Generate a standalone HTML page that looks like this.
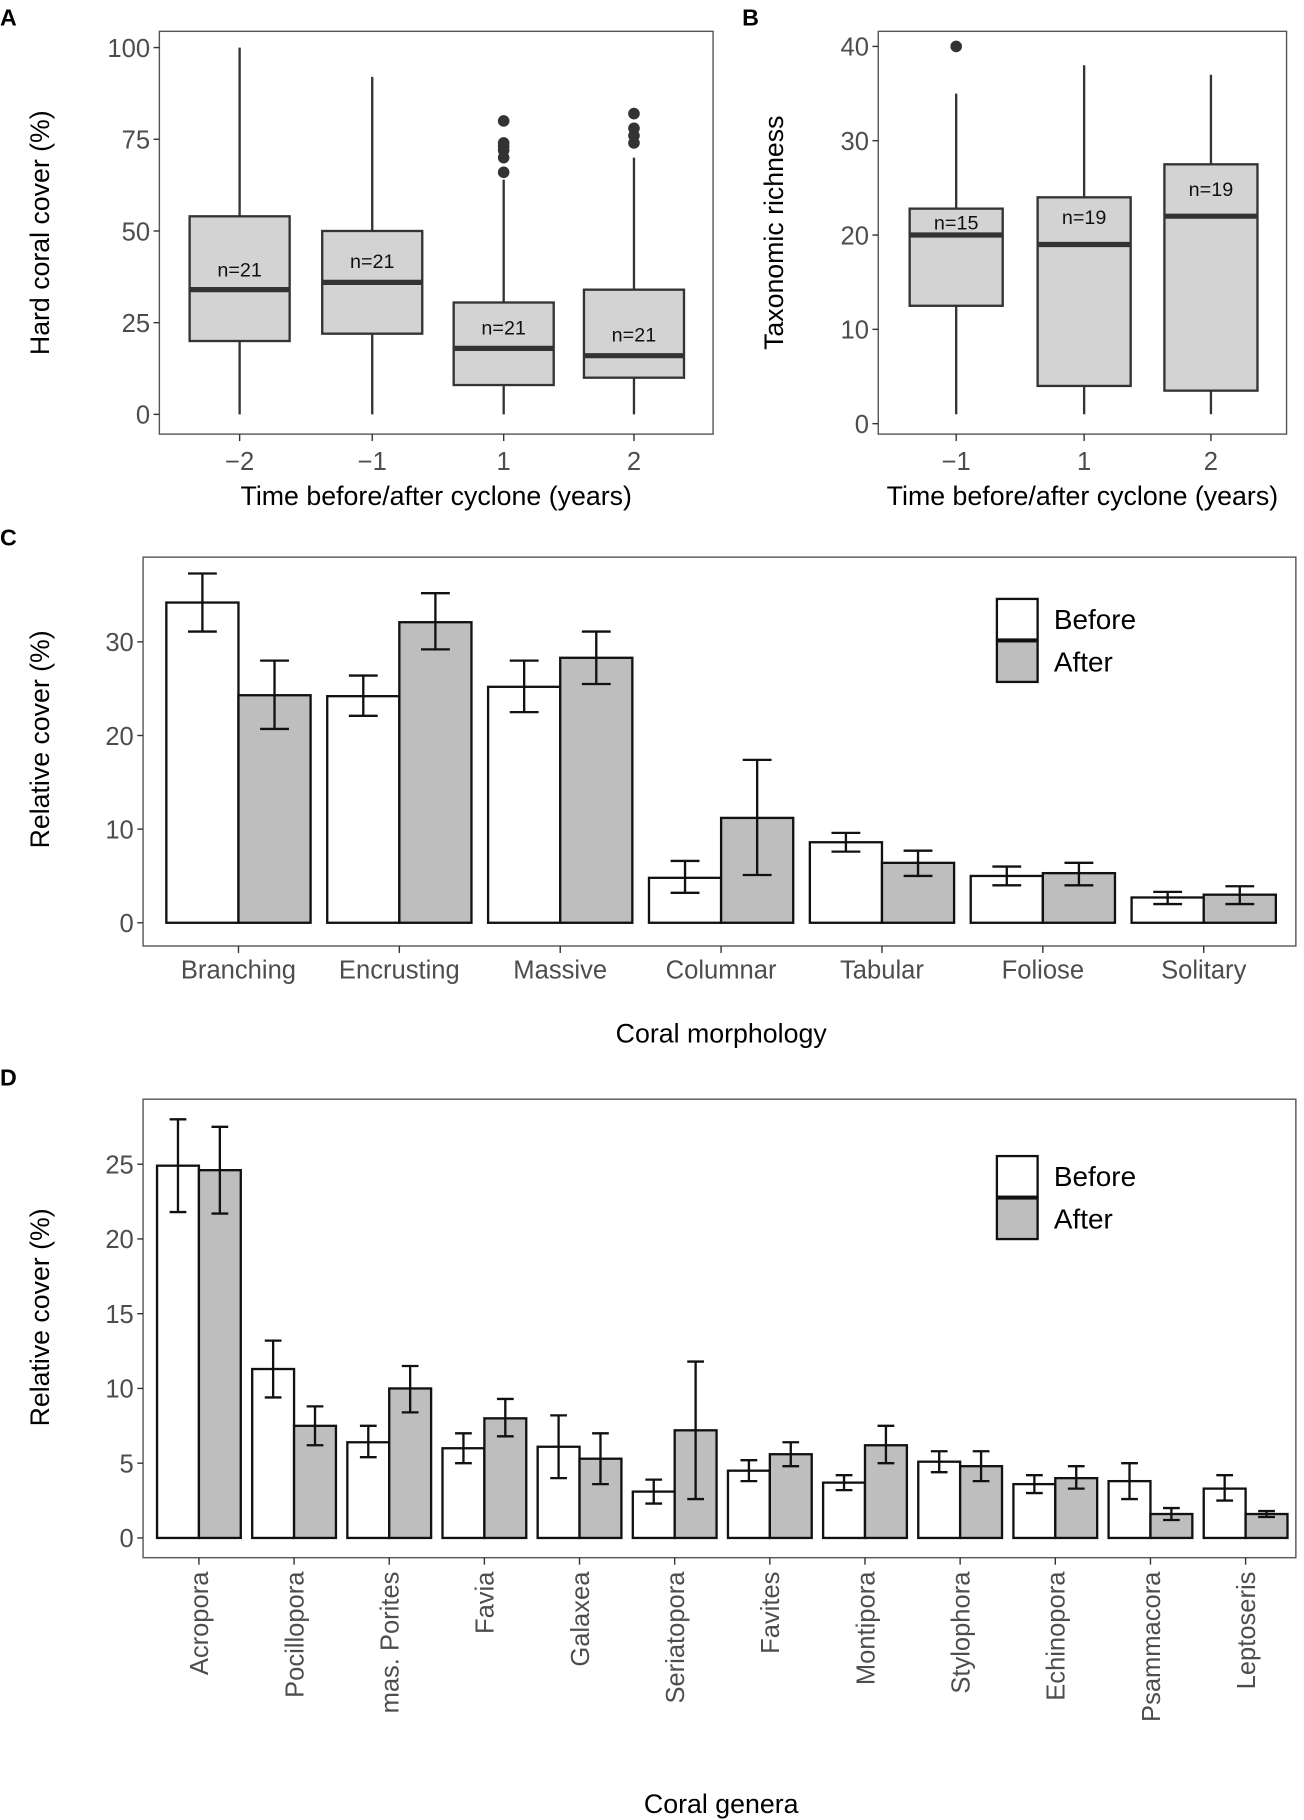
<!DOCTYPE html>
<html><head><meta charset="utf-8"><style>
html,body{margin:0;padding:0;background:#fff}
svg{display:block;font-family:"Liberation Sans",sans-serif}
.tk{fill:#4d4d4d;font-size:22px}
.tt{fill:#000;font-size:23px}
</style></head><body>
<svg id="fig" width="1304" height="1820" viewBox="0 0 1121 1568" preserveAspectRatio="none" xmlns="http://www.w3.org/2000/svg">
<g id="gA"></g>
<g id="gB"></g>
<g id="gC"></g>
<g id="gD"></g>
<text x="0" y="22" font-size="20" font-weight="bold">A</text>
<text x="638" y="22" font-size="20" font-weight="bold">B</text>
<text x="0" y="470" font-size="20" font-weight="bold">C</text>
<text x="0" y="935" font-size="20" font-weight="bold">D</text>
</svg>
<script>
// Panel A data
const aCats=["−2","−1","1","2"];
const aQ1=[20,22,8,10];
const aMed=[34,36,18,16];
const aQ3=[54,50,30.5,34];
const aLo=[0,0,0,0];
const aHi=[100,92,64,70];
const aOut=[[],[],[66,70,72,73,74,80],[74,76,78,82]];
const aN=["n=21","n=21","n=21","n=21"];
const aNy=[39.5,41.8,23.7,21.8];
const aTicks=[0,25,50,75,100];
// Panel B data
const bCats=["−1","1","2"];
const bQ1=[12.5,4,3.5];
const bMed=[20,19,22];
const bQ3=[22.8,24,27.5];
const bLo=[1,1,1];
const bHi=[35,38,37];
const bOut=[[40],[],[]];
const bN=["n=15","n=19","n=19"];
const bNy=[21.3,21.9,24.9];
const bTicks=[0,10,20,30,40];
// Panel C data
const cCats=["Branching","Encrusting","Massive","Columnar","Tabular","Foliose","Solitary"];
const cBefore=[34.2,24.2,25.2,4.8,8.6,5.0,2.7];
const cBeforeLo=[31.1,22.1,22.5,3.2,7.6,4.0,2.0];
const cBeforeHi=[37.3,26.4,28.0,6.6,9.6,6.0,3.3];
const cAfter=[24.3,32.1,28.3,11.2,6.4,5.3,3.0];
const cAfterLo=[20.7,29.2,25.5,5.1,5.0,4.0,2.0];
const cAfterHi=[28.0,35.2,31.1,17.4,7.7,6.4,3.9];
const cTicks=[0,10,20,30];
// Panel D data
const dCats=["Acropora","Pocillopora","mas. Porites","Favia","Galaxea","Seriatopora","Favites","Montipora","Stylophora","Echinopora","Psammacora","Leptoseris"];
const dBefore=[24.9,11.3,6.4,6.0,6.1,3.1,4.5,3.7,5.1,3.6,3.8,3.3];
const dBeforeLo=[21.8,9.4,5.4,5.0,4.0,2.3,3.8,3.2,4.4,3.0,2.6,2.5];
const dBeforeHi=[28.0,13.2,7.5,7.0,8.2,3.9,5.2,4.2,5.8,4.2,5.0,4.2];
const dAfter=[24.6,7.5,10.0,8.0,5.3,7.2,5.6,6.2,4.8,4.0,1.6,1.6];
const dAfterLo=[21.7,6.2,8.4,6.8,3.6,2.6,4.8,5.0,3.8,3.3,1.2,1.4];
const dAfterHi=[27.5,8.8,11.5,9.3,7.0,11.8,6.4,7.5,5.8,4.8,2.0,1.8];
const dTicks=[0,5,10,15,20,25];

const NS="http://www.w3.org/2000/svg";
function mk(parent,tag,attrs,txt){const e=document.createElementNS(NS,tag);for(const k in attrs)e.setAttribute(k,attrs[k]);if(txt!==undefined)e.textContent=txt;parent.appendChild(e);return e;}

function frame(g,L,R,T,B,ticks,ys,name){
  const f=mk(g,'rect',{x:L,y:T,width:R-L,height:B-T,fill:'none',stroke:'#555','stroke-width':1.2});
  
  
  ticks.forEach(t=>{
    const y=ys(t);
    const l=mk(g,'line',{x1:L-5,x2:L,y1:y,y2:y,stroke:'#333','stroke-width':1.2});
    
    
    const tx=mk(g,'text',{x:L-8,y:y+8,'text-anchor':'end',class:'tk'},t);
    
    
  });
}

function boxPanel(g,o){
  const ys=v=>o.y0+(o.y1-o.y0)*(v-o.v0)/(o.v1-o.v0);
  frame(g,o.L,o.R,o.T,o.B,o.ticks,ys,o.name);
  o.cats.forEach((c,i)=>{
    const x=o.xs[i],w=o.bw;
    const tl=mk(g,'line',{x1:x,x2:x,y1:o.B,y2:o.B+6,stroke:'#333','stroke-width':1.2});
    
    
    const lb=mk(g,'text',{x:x,y:o.B+31,'text-anchor':'middle',class:'tk','font-size':24},c);
    
    
    const wh=mk(g,'line',{x1:x,x2:x,y1:ys(o.lo[i]),y2:ys(o.hi[i]),stroke:'#333','stroke-width':2});
    
    
    const bx=mk(g,'rect',{x:x-w/2,y:ys(o.q3[i]),width:w,height:ys(o.q1[i])-ys(o.q3[i]),fill:'#d3d3d3',stroke:'#333','stroke-width':2});
    
    
    const md=mk(g,'line',{x1:x-w/2,x2:x+w/2,y1:ys(o.med[i]),y2:ys(o.med[i]),stroke:'#333','stroke-width':4.5});
    
    
    o.out[i].forEach(v=>{
      const p=mk(g,'circle',{cx:x,cy:ys(v),r:5,fill:'#333'});
      
      
    });
    const n=mk(g,'text',{x:x,y:ys(o.ny[i])+6,'text-anchor':'middle','font-size':17,fill:'#111'},o.n[i]);
    
    
  });
  const xt=mk(g,'text',{x:(o.L+o.R)/2+o.xtOff,y:o.B+61,'text-anchor':'middle',class:'tt','font-size':24},'Time before/after cyclone (years)');
  
  
  const yc=(o.T+o.B)/2;
  const yt=mk(g,'text',{x:0,y:0,transform:`translate(${o.ytx},${yc}) rotate(-90)`,'text-anchor':'middle',class:'tt','font-size':24},o.ytitle);
  
  
}

boxPanel(document.getElementById('gA'),{name:'a',L:137,R:613,T:27,B:374,v0:0,v1:100,y0:357,y1:41,ticks:aTicks,cats:aCats,xs:[206,320,433,545],bw:86,q1:aQ1,med:aMed,q3:aQ3,lo:aLo,hi:aHi,out:aOut,n:aN,ny:aNy,ytitle:'Hard coral cover (%)',ytx:42,xtOff:0});
boxPanel(document.getElementById('gB'),{name:'b',L:755,R:1106,T:27,B:374,v0:0,v1:40,y0:365,y1:40,ticks:bTicks,cats:bCats,xs:[822,932,1041],bw:80,q1:bQ1,med:bMed,q3:bQ3,lo:bLo,hi:bHi,out:bOut,n:bN,ny:bNy,ytitle:'Taxonomic richness',ytx:673,xtOff:0});

function barPanel(g,o){
  const ys=v=>o.y0+(o.y1-o.y0)*(v-o.v0)/(o.v1-o.v0);
  frame(g,o.L,o.R,o.T,o.B,o.ticks,ys,o.name);
  o.cats.forEach((c,i)=>{
    const cx=o.x0+o.step*i;
    const tl=mk(g,'line',{x1:cx,x2:cx,y1:o.B,y2:o.B+6,stroke:'#333','stroke-width':1.2});
    
    
    [[o.bef,o.befLo,o.befHi,'#fff',-1,'before'],[o.aft,o.aftLo,o.aftHi,'#bebebe',0,'after']].forEach(s=>{
      const x=cx+s[4]*o.bw;
      const r=mk(g,'rect',{x:x,y:ys(s[0][i]),width:o.bw,height:ys(0)-ys(s[0][i]),fill:s[3],stroke:'#111','stroke-width':2});
      
      
      const mx=x+o.bw/2,cap=o.bw*0.2;
      const e=mk(g,'path',{d:`M${mx-cap},${ys(s[1][i])}H${mx+cap}M${mx-cap},${ys(s[2][i])}H${mx+cap}M${mx},${ys(s[1][i])}V${ys(s[2][i])}`,stroke:'#111','stroke-width':2,fill:'none'});
      
      
    });
    let lb;
    if(o.rot){
      lb=mk(g,'text',{x:0,y:0,transform:`translate(${cx+8},${o.B+12}) rotate(-90)`,'text-anchor':'end',class:'tk','font-size':23},c);
    } else {
      lb=mk(g,'text',{x:cx,y:o.B+28,'text-anchor':'middle',class:'tk','font-size':23},c);
    }
    
    
  });
  const xt=mk(g,'text',{x:620,y:o.xty,'text-anchor':'middle',class:'tt','font-size':24},o.xtitle);
  
  
  const yt=mk(g,'text',{x:0,y:0,transform:`translate(42,${o.ytc}) rotate(-90)`,'text-anchor':'middle',class:'tt','font-size':24},'Relative cover (%)');
  
  
  [['Before','#fff',0],['After','#bebebe',1]].forEach(l=>{
    const y=o.legY+l[2]*36.5;
    const r=mk(g,'rect',{x:857,y:y,width:35,height:35,fill:l[1],stroke:'#111','stroke-width':2});
    
    
    const t=mk(g,'text',{x:906,y:y+26,'font-size':24,fill:'#000'},l[0]);
    
    
  });
}

barPanel(document.getElementById('gC'),{name:'c',L:123,R:1114,T:480,B:815,v0:0,v1:30,y0:795,y1:553,ticks:cTicks,cats:cCats,x0:205,step:138.3,bw:62,bef:cBefore,befLo:cBeforeLo,befHi:cBeforeHi,aft:cAfter,aftLo:cAfterLo,aftHi:cAfterHi,rot:false,xtitle:'Coral morphology',xty:898,ytc:637,legY:516});
barPanel(document.getElementById('gD'),{name:'d',L:123,R:1114,T:947,B:1342,v0:0,v1:25,y0:1325,y1:1003,ticks:dTicks,cats:dCats,x0:171,step:81.8,bw:36,bef:dBefore,befLo:dBeforeLo,befHi:dBeforeHi,aft:dAfter,aftLo:dAfterLo,aftHi:dAfterHi,rot:true,xtitle:'Coral genera',xty:1562,ytc:1135,legY:996});
</script>
</body></html>
